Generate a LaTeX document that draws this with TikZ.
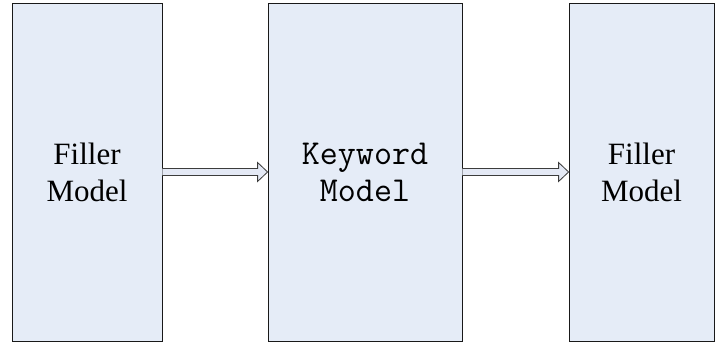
\documentclass[tikz,border=0pt]{standalone}
\usepackage{fontspec}
\setmainfont{Liberation Serif}
\usepackage{tikz}
\usetikzlibrary{calc}
\usepackage{xcolor}
\definecolor{modelfill}{RGB}{229,236,247}
\definecolor{modeledge}{RGB}{25,25,25}
\definecolor{arrowfill}{RGB}{228,233,245}
\definecolor{arrowedge}{RGB}{60,60,60}

% block arrow from the east side of one box to the west side of the next
\newcommand{\blockarrow}[2]{%
  \draw[arrowedge,fill=arrowfill,line width=0.8pt,line join=miter]
    ($(#1.east)+(0,3.5)$) -- ($(#2.west)+(-10,3.5)$) -- ($(#2.west)+(-10,9.5)$)
    -- (#2.west) -- ($(#2.west)+(-10,-9.5)$) -- ($(#2.west)+(-10,-3.5)$)
    -- ($(#1.east)+(0,-3.5)$);
}

\begin{document}
\begin{tikzpicture}[x=1pt,y=1pt,
  model/.style={draw=modeledge,fill=modelfill,line width=0.8pt,inner sep=0pt,
    minimum height=338pt,align=center,font=\fontsize{31}{37}\selectfont}]
  \useasboundingbox (0,0) rectangle (715,343);
  \node[model,minimum width=150pt] (fillerL) at (87,171) {Filler\\Model};
  \node[model,minimum width=194pt,font=\fontsize{35}{37}\selectfont\ttfamily] (keyword) at (365,171) {Keyword\\Model};
  \node[model,minimum width=145pt] (fillerR) at (641.5,171) {Filler\\Model};
  \blockarrow{fillerL}{keyword}
  \blockarrow{keyword}{fillerR}
\end{tikzpicture}
\end{document}
